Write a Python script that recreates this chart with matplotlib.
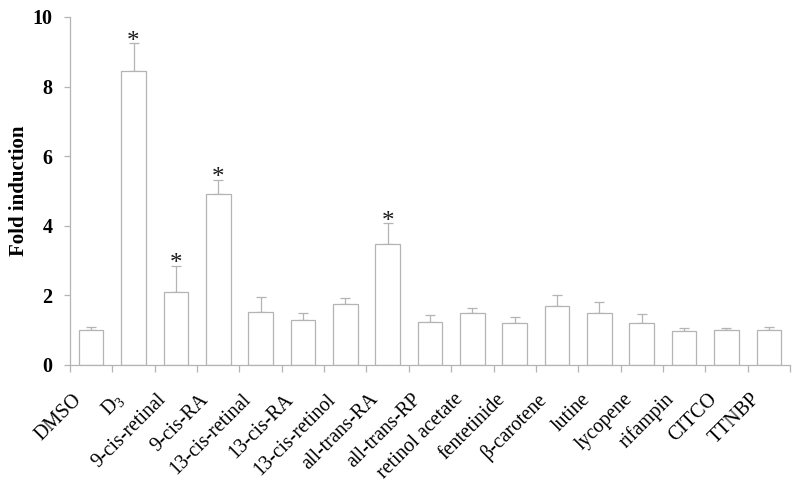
import matplotlib
matplotlib.use("Agg")
import matplotlib.pyplot as plt
import matplotlib.transforms as mtransforms
import numpy as np

categories = ["DMSO", "D$_3$", "9-cis-retinal", "9-cis-RA", "13-cis-retinal", "13-cis-RA",
              "13-cis-retinol", "all-trans-RA", "all-trans-RP", "retinol acetate", "fentetinide",
              "β-carotene", "lutine", "lycopene", "rifampin", "CITCO", "TTNBP"]
values = [1.0, 8.46, 2.1, 4.9, 1.53, 1.29, 1.75, 3.48, 1.23, 1.5, 1.2, 1.7, 1.5, 1.2, 0.97, 1.0, 1.0]
err_upper = [0.09, 0.79, 0.75, 0.42, 0.42, 0.21, 0.17, 0.59, 0.2, 0.15, 0.17, 0.3, 0.3, 0.27, 0.08, 0.05, 0.08]
significant = [False, True, True, True, False, False, False, True, False, False, False, False, False, False, False, False, False]

plt.rcParams['font.family'] = ['Liberation Serif', 'DejaVu Serif']
plt.rcParams['mathtext.fontset'] = 'custom'
plt.rcParams['mathtext.rm'] = 'Liberation Serif'
plt.rcParams['mathtext.it'] = 'Liberation Serif'

fig = plt.figure(figsize=(8, 4.84), dpi=100)
ax = fig.add_axes([0.0875, 0.2459, 0.9, 0.719])

x = np.arange(len(categories))
gray = "#b4b4b4"
ax.bar(x, values, width=0.58, color="white", edgecolor=gray, linewidth=0.9, zorder=2)
ax.errorbar(x, values, yerr=[np.zeros(len(values)), err_upper], fmt="none",
            ecolor=gray, elinewidth=0.9, capsize=3.3, capthick=0.9, zorder=1)
for xi, v, e, s in zip(x, values, err_upper, significant):
    if s:
        ax.text(xi, v + e - 0.13, "*", ha="center", va="baseline", fontsize=18, color="#1a1a1a")

ax.set_xlim(-0.5, len(categories) - 0.5)
ax.set_ylim(0, 10)
ax.set_yticks([0, 2, 4, 6, 8, 10])
ax.tick_params(axis="y", labelsize=14.5, length=4, color=gray, width=0.9, pad=8.6)
for lab in ax.get_yticklabels():
    lab.set_fontweight("bold")
ax.set_ylabel("Fold induction", fontsize=15, fontweight="bold")
ax.yaxis.set_label_coords(-0.0563, 0.5)

# category labels (rotated, Excel-like placement)
ax.set_xticks(x)
ax.set_xticklabels([])
ax.tick_params(axis="x", which="major", length=0)
ax.set_xticks(np.arange(len(categories) + 1) - 0.5, minor=True)
ax.tick_params(axis="x", which="minor", length=5, color=gray, width=0.9)
offset = mtransforms.ScaledTranslation(-9 / 100, -35 / 100, fig.dpi_scale_trans)
for xi, lab in zip(x, categories):
    ax.text(xi, 0, lab, transform=ax.get_xaxis_transform() + offset,
            rotation=45, rotation_mode="anchor", ha="right", va="baseline",
            fontsize=14.3, clip_on=False)

for sp in ["top", "right"]:
    ax.spines[sp].set_visible(False)
for sp in ["left", "bottom"]:
    ax.spines[sp].set_color(gray)
    ax.spines[sp].set_linewidth(0.9)

fig.savefig("out.png", dpi=100)
